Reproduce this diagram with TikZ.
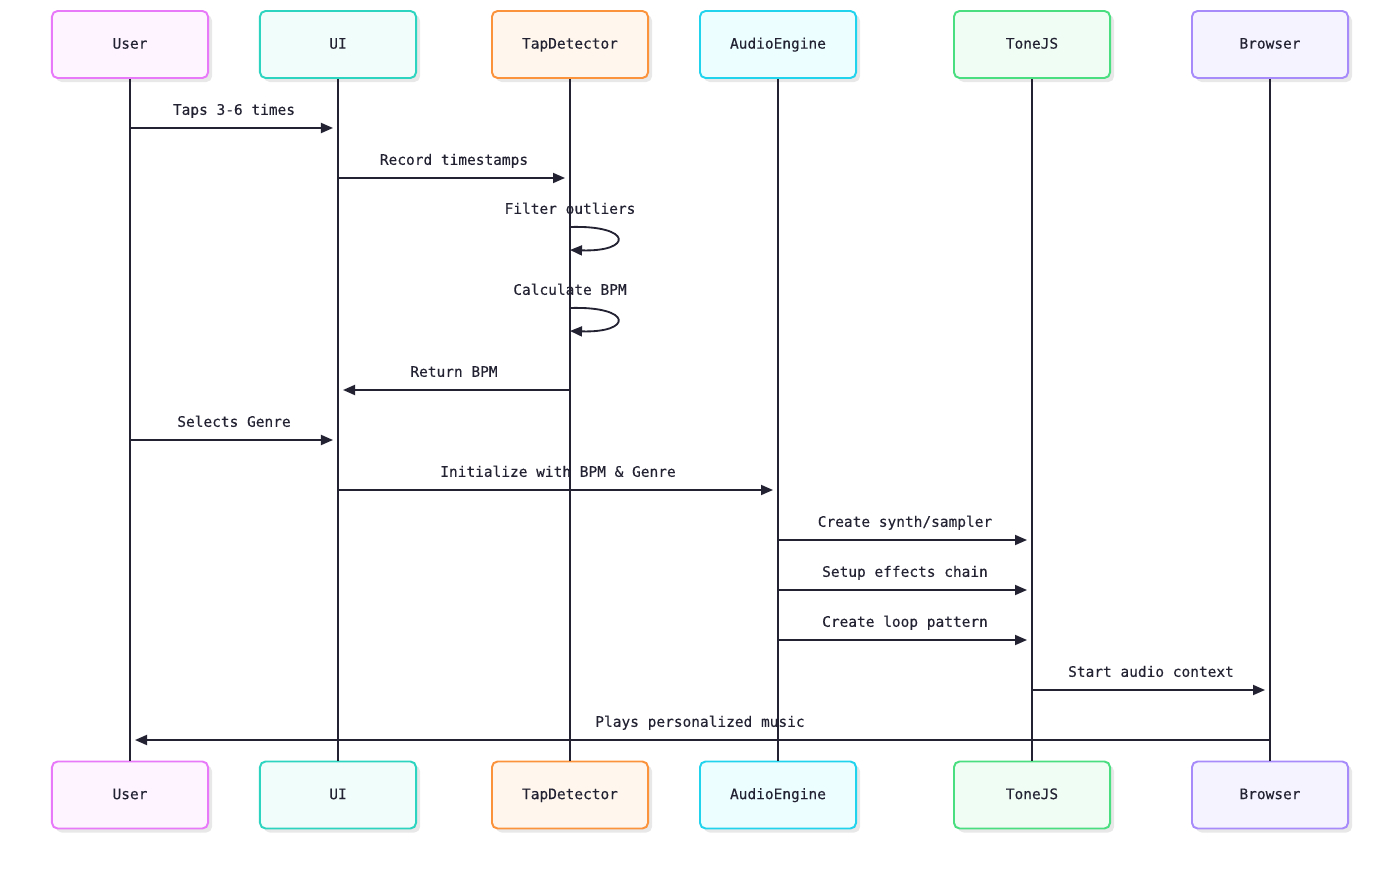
\documentclass[tikz,border=0pt]{standalone}
\usepackage{fontspec}
\newfontfamily\plexmono[FakeBold=0.3]{DejaVu Sans Mono}
\usepackage{tikz}
\usetikzlibrary{arrows.meta,shadows}
\definecolor{ink}{HTML}{222233}
\definecolor{userline}{HTML}{E879F9}\definecolor{userfill}{HTML}{FDF4FF}
\definecolor{uiline}{HTML}{2DD4BF}\definecolor{uifill}{HTML}{F0FDFA}
\definecolor{tapline}{HTML}{FB923C}\definecolor{tapfill}{HTML}{FFF7ED}
\definecolor{audioline}{HTML}{22D3EE}\definecolor{audiofill}{HTML}{ECFEFF}
\definecolor{toneline}{HTML}{4ADE80}\definecolor{tonefill}{HTML}{F0FDF4}
\definecolor{brline}{HTML}{A78BFA}\definecolor{brfill}{HTML}{F5F3FF}

\begin{document}
\begin{tikzpicture}[x=0.025cm,y=-0.025cm,
  every node/.style={font=\plexmono\fontsize{10.3}{12}\selectfont,text=ink},
  actor/.style={draw=#1line,fill=#1fill,line width=1.4pt,rounded corners=0.14cm,
    minimum width=3.9cm,minimum height=1.675cm,text height=1.75ex,text depth=0.4ex,
    drop shadow={shadow xshift=0.1cm,shadow yshift=-0.1cm,fill=black!9,opacity=1}},
  life/.style={ink,line width=1.3pt},
  msg/.style={ink,line width=1.3pt,-{Triangle[length=0.3cm,width=0.25cm]},shorten >=0.125cm},
  lbl/.style={anchor=base,yshift=0.33cm}]
 \useasboundingbox (0,0) rectangle (1400,872);
 % participants, top row
 \node[actor=user]  (userT)  at (130,44.5)  {User};
 \node[actor=ui]    (uiT)    at (338,44.5)  {UI};
 \node[actor=tap]   (tapT)   at (570,44.5)  {TapDetector};
 \node[actor=audio] (audioT) at (778,44.5)  {AudioEngine};
 \node[actor=tone]  (toneT)  at (1032,44.5) {ToneJS};
 \node[actor=br]    (brT)    at (1270,44.5) {Browser};
 % participants, bottom row
 \node[actor=user]  (userB)  at (130,795)  {User};
 \node[actor=ui]    (uiB)    at (338,795)  {UI};
 \node[actor=tap]   (tapB)   at (570,795)  {TapDetector};
 \node[actor=audio] (audioB) at (778,795)  {AudioEngine};
 \node[actor=tone]  (toneB)  at (1032,795) {ToneJS};
 \node[actor=br]    (brB)    at (1270,795) {Browser};
 % lifelines
 \draw[life] (userT) -- (userB);
 \draw[life] (uiT) -- (uiB);
 \draw[life] (tapT) -- (tapB);
 \draw[life] (audioT) -- (audioB);
 \draw[life] (toneT) -- (toneB);
 \draw[life] (brT) -- (brB);
 % message rows
 \coordinate (m1) at (0,128);
 \coordinate (m2) at (0,178);
 \coordinate (m5) at (0,390);
 \coordinate (m6) at (0,440);
 \coordinate (m7) at (0,490);
 \coordinate (m8) at (0,540);
 \coordinate (m9) at (0,590);
 \coordinate (m10) at (0,640);
 \coordinate (m11) at (0,690);
 \coordinate (m12) at (0,740);
 \coordinate (s1a) at (570,227); \coordinate (s1b) at (570,250);
 \coordinate (s2a) at (570,308); \coordinate (s2b) at (570,331);
 % messages
 \draw[msg] (userT |- m1) -- node[lbl] {Taps 3-6 times} (uiT |- m1);
 \draw[msg] (uiT |- m2) -- node[lbl] {Record timestamps} (tapT |- m2);
 \draw[msg,shorten >=0pt] (s1a) .. controls (633,225) and (633,252) .. (s1b);
 \node[lbl] at (570,227) {Filter outliers};
 \draw[msg,shorten >=0pt] (s2a) .. controls (633,306) and (633,333) .. (s2b);
 \node[lbl] at (570,308) {Calculate BPM};
 \draw[msg] (tapT |- m5) -- node[lbl] {Return BPM} (uiT |- m5);
 \draw[msg] (userT |- m6) -- node[lbl] {Selects Genre} (uiT |- m6);
 \draw[msg] (uiT |- m7) -- node[lbl] {Initialize with BPM \& Genre} (audioT |- m7);
 \draw[msg] (audioT |- m8) -- node[lbl] {Create synth/sampler} (toneT |- m8);
 \draw[msg] (audioT |- m9) -- node[lbl] {Setup effects chain} (toneT |- m9);
 \draw[msg] (audioT |- m10) -- node[lbl] {Create loop pattern} (toneT |- m10);
 \draw[msg] (toneT |- m11) -- node[lbl] {Start audio context} (brT |- m11);
 \draw[msg] (brT |- m12) -- node[lbl] {Plays personalized music} (userT |- m12);
\end{tikzpicture}
\end{document}
